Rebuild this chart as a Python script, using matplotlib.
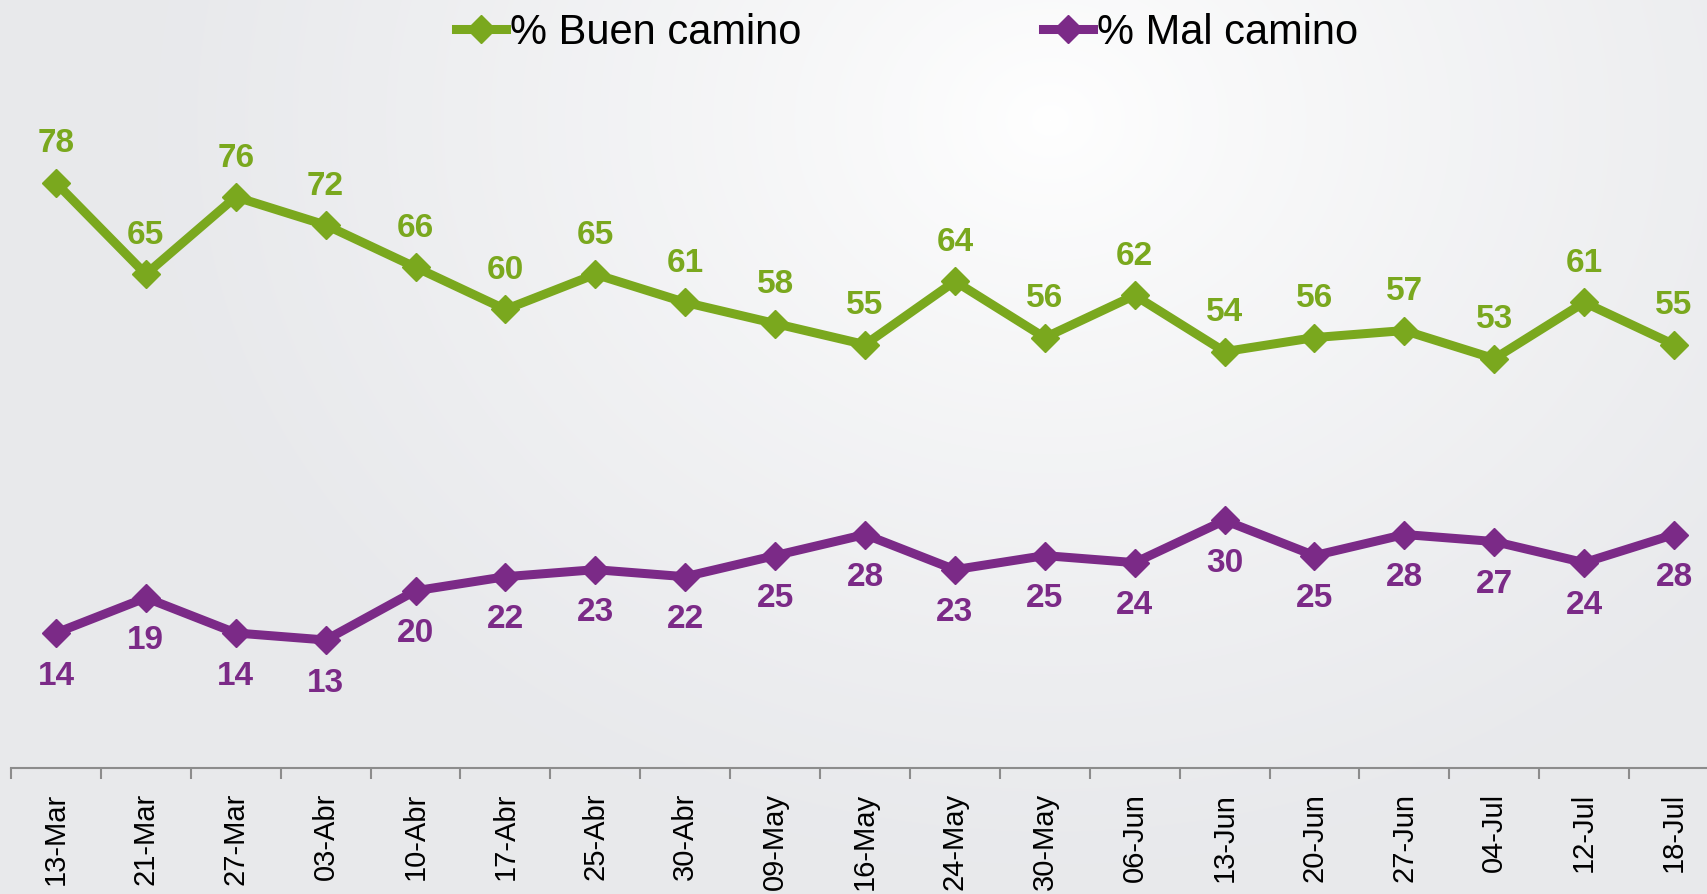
import numpy as np
import matplotlib
matplotlib.use("Agg")
import matplotlib.pyplot as plt
from matplotlib.lines import Line2D

fechas = ["13-Mar", "21-Mar", "27-Mar", "03-Abr", "10-Abr", "17-Abr", "25-Abr", "30-Abr",
          "09-May", "16-May", "24-May", "30-May", "06-Jun", "13-Jun", "20-Jun", "27-Jun",
          "04-Jul", "12-Jul", "18-Jul"]
buen_camino = [78, 65, 76, 72, 66, 60, 65, 61, 58, 55, 64, 56, 62, 54, 56, 57, 53, 61, 55]
mal_camino = [14, 19, 14, 13, 20, 22, 23, 22, 25, 28, 23, 25, 24, 30, 25, 28, 27, 24, 28]

VERDE = "#7aa81e"
MORADO = "#7b2a87"
plt.rcParams["font.family"] = ["Liberation Sans", "DejaVu Sans"]

W, H = 1708, 894
fig = plt.figure(figsize=(W / 100, H / 100), dpi=100)

# radial grey-to-white background
bg = fig.add_axes([0, 0, 1, 1], zorder=0)
yy, xx = np.mgrid[0:H, 0:W]
r = np.sqrt(((xx - 1050) / 900.0) ** 2 + ((yy - 120) / 750.0) ** 2)
val = np.clip(r, 0, 1)
lo = np.array([1.0, 1.0, 1.0]); hi = np.array([0.91, 0.914, 0.925])
img = lo + (hi - lo) * val[..., None] ** 0.8
bg.imshow(img, aspect="auto", extent=[0, 1, 0, 1])
bg.axis("off")

ax = fig.add_axes([11 / W, (H - 768) / H, 1.0, 768 / H], zorder=1)
ax.patch.set_alpha(0)
x = np.arange(len(fechas))
ax.plot(x, buen_camino, color=VERDE, lw=6.5, marker="D", ms=14, zorder=3)
ax.plot(x, mal_camino, color=MORADO, lw=6.5, marker="D", ms=14, zorder=3)

for i in x:
    ax.annotate(str(buen_camino[i]), (i, buen_camino[i]), xytext=(0, 28), textcoords="offset points",
                ha="center", va="center", fontsize=24, fontweight="bold", color=VERDE)
    ax.annotate(str(mal_camino[i]), (i, mal_camino[i]), xytext=(0, -31), textcoords="offset points",
                ha="center", va="center", fontsize=24, fontweight="bold", color=MORADO)

ax.set_xlim(-0.5, len(fechas) - 0.5)
ax.set_ylim(-5.2, 104)
for s in ["top", "right", "left"]:
    ax.spines[s].set_visible(False)
ax.spines["bottom"].set_color("#8c8c8c")
ax.spines["bottom"].set_linewidth(1.5)
ax.set_yticks([])
ax.set_xticks(x)
ax.set_xticklabels(fechas, rotation=90, fontsize=21, color="black")
ax.tick_params(axis="x", which="major", length=0, pad=18)
ax.set_xticks(np.arange(-0.5, len(fechas), 1.0), minor=True)
ax.tick_params(axis="x", which="minor", length=8, width=1.5, color="#8c8c8c")

handles = [Line2D([], [], color=VERDE, lw=6.5, marker="D", ms=14),
           Line2D([], [], color=MORADO, lw=6.5, marker="D", ms=14)]
fig.legend(handles, ["% Buen camino", "% Mal camino"], loc="center", bbox_to_anchor=(0.531, 0.963),
           ncol=2, frameon=False, handlelength=1.2, handletextpad=0.1, columnspacing=5.8,
           prop={"family": ["Liberation Sans Narrow", "Liberation Sans"], "size": 30})

fig.savefig("out.png", dpi=100)
